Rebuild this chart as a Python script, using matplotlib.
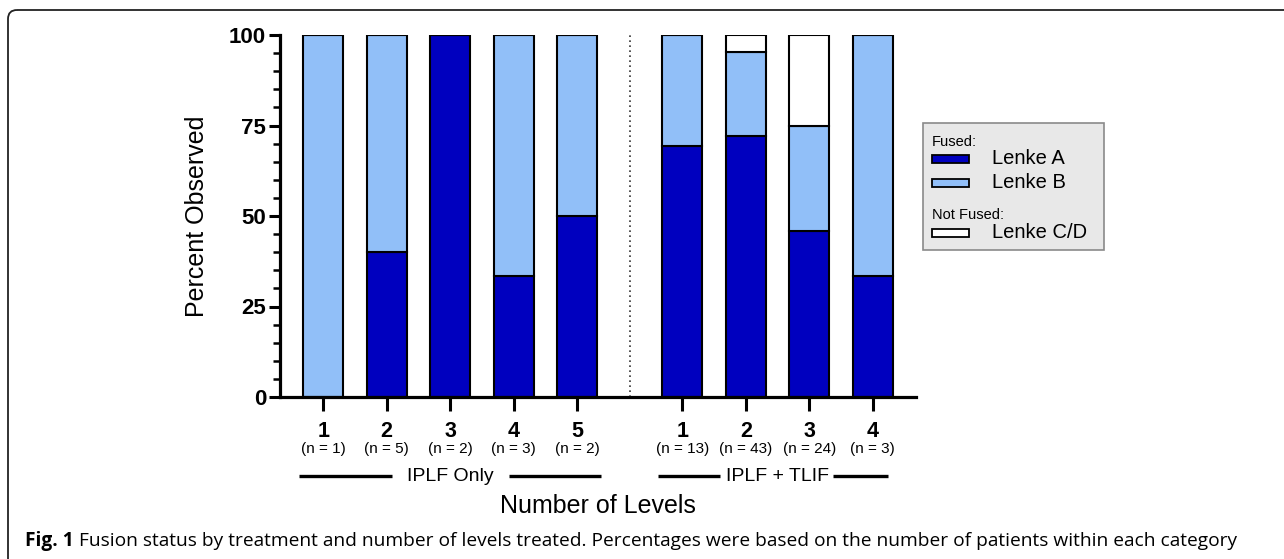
import numpy as np
import matplotlib
matplotlib.use("Agg")
import matplotlib.pyplot as plt
from matplotlib.patches import Rectangle, FancyBboxPatch

# data (percent of patients per category)
iplf_levels = ["1", "2", "3", "4", "5"]
iplf_n = [1, 5, 2, 3, 2]
tlif_levels = ["1", "2", "3", "4"]
tlif_n = [13, 43, 24, 3]
group_names = ["IPLF Only", "IPLF + TLIF"]

lenke_a = [0, 40, 100, 33.3, 50, 69.2, 72.1, 45.8, 33.3]
lenke_b = [100, 60, 0, 66.7, 50, 30.8, 23.3, 29.2, 66.7]
lenke_cd = [0, 0, 0, 0, 0, 0, 4.6, 25, 0]

levels = iplf_levels + tlif_levels
n_counts = iplf_n + tlif_n

# colours
c_a = "#0000bf"
c_b = "#91bff8"
c_cd = "#ffffff"

plt.rcParams["font.family"] = ["Liberation Sans", "DejaVu Sans"]

W, H = 1284, 559
fig = plt.figure(figsize=(W / 100, H / 100), dpi=100)

# page frame + legend layer (pixel coordinates)
over = fig.add_axes([0, 0, 1, 1], zorder=3)
over.set_xlim(0, W)
over.set_ylim(H, 0)
over.axis("off")
over.patch.set_alpha(0)
frame = FancyBboxPatch((8, 10), W + 50, H + 50,
                       boxstyle="round,pad=0,rounding_size=9",
                       fc="none", ec="#222222", lw=1.3)
over.add_patch(frame)

ax = fig.add_axes([280 / W, 1 - 397 / H, 636 / W, 362 / H])

gap = 0.66
x = np.concatenate([np.arange(len(iplf_levels)),
                    len(iplf_levels) + gap + np.arange(len(tlif_levels))])
a = np.array(lenke_a)
b = np.array(lenke_b)
cd = np.array(lenke_cd)

bw = 0.63
kw = dict(width=bw, edgecolor="black", linewidth=1.5, zorder=2)
ax.bar(x, a, color=c_a, **kw)
ax.bar(x, b, bottom=a, color=c_b, **kw)
ax.bar(x, cd, bottom=a + b, color=c_cd, **kw)

sep = (x[len(iplf_levels) - 1] + x[len(iplf_levels)]) / 2
ax.axvline(sep, color="#333333", ls=(0, (1, 2)), lw=1.2, zorder=1)

ax.set_xlim(-0.68, 9.34)
ax.set_ylim(0, 100)
ax.spines["top"].set_visible(False)
ax.spines["right"].set_visible(False)
ax.spines["left"].set_linewidth(2.3)
ax.spines["bottom"].set_linewidth(2.3)
ax.spines["left"].set_capstyle("projecting")

ax.set_yticks([0, 25, 50, 75, 100])
ax.set_yticks(np.arange(0, 101, 5), minor=True)
ax.tick_params(axis="y", which="major", length=8, width=2.2, pad=2,
               labelsize=16)
ax.tick_params(axis="y", which="minor", length=5, width=1.8)
for t in ax.get_yticklabels():
    t.set_fontweight("bold")

ax.set_xticks(x)
ax.set_xticklabels([])
ax.tick_params(axis="x", which="major", length=10, width=2.2)

ax.set_ylabel("Percent Observed", fontsize=18)
ax.yaxis.set_label_coords(-0.112, 0.5)

tr = ax.get_xaxis_transform()
for xi, lev, n in zip(x, levels, n_counts):
    ax.text(xi, -0.094, lev, transform=tr, ha="center", va="center",
            fontsize=15.5, fontweight="bold")
    ax.text(xi, -0.145, f"(n = {n})", transform=tr, ha="center",
            va="center", fontsize=11)

# group brackets
groups = [(x[:len(iplf_levels)], group_names[0], 0.92, 0.92, 0.38),
          (x[len(iplf_levels):], group_names[1], 0.91, 0.87, 0.24)]
for gx, name, lpad, rpad, end in groups:
    c = (gx[0] + gx[-1]) / 2
    ax.text(c, -0.22, name, transform=tr, ha="center", va="center",
            fontsize=14)
    ax.plot([gx[0] - 0.38, c - lpad], [-0.218, -0.218], transform=tr,
            color="black", lw=2.4, clip_on=False, solid_capstyle="butt")
    ax.plot([c + rpad, gx[-1] + end], [-0.218, -0.218], transform=tr,
            color="black", lw=2.4, clip_on=False, solid_capstyle="butt")

ax.text(0.5, -0.30, "Number of Levels", transform=ax.transAxes,
        ha="center", va="center", fontsize=18)

# legend
over.add_patch(Rectangle((923, 123), 181, 127, fc="#e8e8e8", ec="#8a8a8a",
                         lw=1.2))
over.text(932, 142, "Fused:", fontsize=10.5, va="center", ha="left")
over.text(932, 215, "Not Fused:", fontsize=10.5, va="center", ha="left")
entries = [(159, c_a, "Lenke A"), (183, c_b, "Lenke B"),
           (233, c_cd, "Lenke C/D")]
for yc, col, lab in entries:
    over.add_patch(Rectangle((932, yc - 4), 37, 8, fc=col, ec="black",
                             lw=1.3))
    over.text(992, yc, lab, fontsize=14.5, va="center", ha="left")

# caption
cap_font = ["Open Sans", "DejaVu Sans"]
fig.canvas.draw()
t1 = over.text(25, 541, "Fig. 1", fontsize=13.8, fontweight="bold",
               va="center", ha="left", family=cap_font)
bb = t1.get_window_extent(fig.canvas.get_renderer())
over.text(bb.x1 + 5, 541,
          "Fusion status by treatment and number of levels treated. "
          "Percentages were based on the number of patients within each category",
          fontsize=13.8, va="center", ha="left", family=cap_font)

fig.savefig("out.png", dpi=100)
